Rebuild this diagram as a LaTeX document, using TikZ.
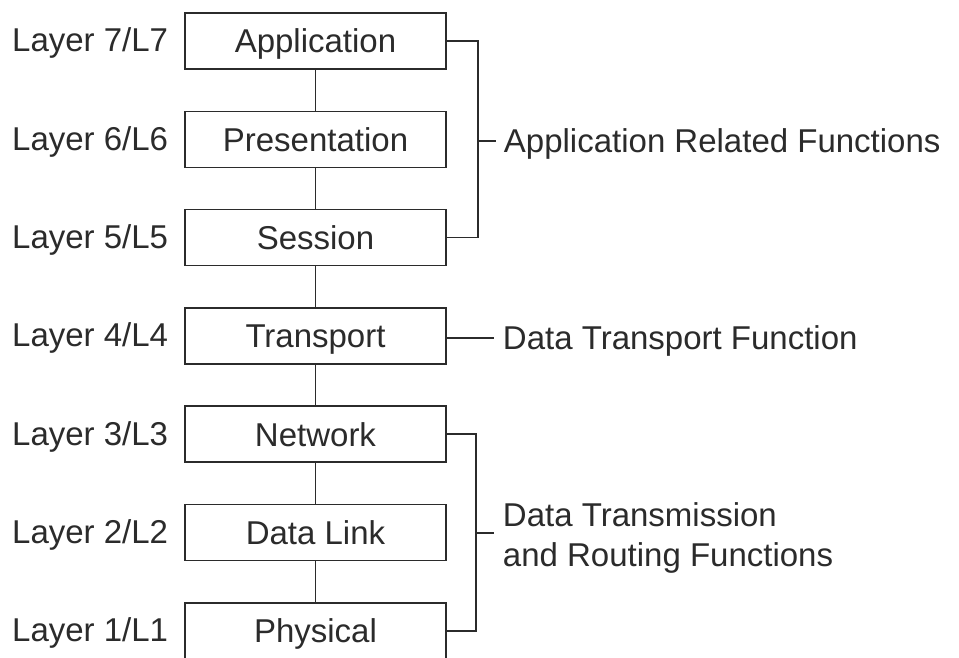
\documentclass[tikz,border=0pt]{standalone}
\usepackage{fontspec}
\setmainfont{Liberation Sans}
\usetikzlibrary{calc}
\definecolor{ink}{HTML}{2B2B2B}
\begin{document}
\begin{tikzpicture}[x=1pt,y=-1pt,
  every node/.style={font=\fontsize{33}{40}\selectfont, text=ink, inner sep=0pt,
    text height=23.6pt, text depth=0pt},
  layerbox/.style={draw=ink, line width=1.5pt, minimum width=261pt, minimum height=56pt},
  tag/.style={anchor=west},
  conn/.style={draw=ink, line width=1.5pt}]
\useasboundingbox[fill=white] (0,0) rectangle (959,657);

% the seven layers
\node[layerbox] (app) at (315.5,41)    {Application};
\node[layerbox] (pre) at (315.5,139.3) {Presentation};
\node[layerbox] (ses) at (315.5,237.6) {Session};
\node[layerbox] (tra) at (315.5,335.9) {Transport};
\node[layerbox] (net) at (315.5,434.2) {Network};
\node[layerbox] (dl)  at (315.5,532.5) {Data Link};
\node[layerbox] (phy) at (315.5,630.8) {Physical};

% layer numbers on the left
\node[tag] (l7) at (12,40)    {Layer 7/L7};
\node[tag] (l6) at (12,138.3) {Layer 6/L6};
\node[tag] (l5) at (12,236.6) {Layer 5/L5};
\node[tag] (l4) at (12,334.9) {Layer 4/L4};
\node[tag] (l3) at (12,433.2) {Layer 3/L3};
\node[tag] (l2) at (12,531.5) {Layer 2/L2};
\node[tag] (l1) at (12,629.8) {Layer 1/L1};

% stack links
\draw[conn] (app) -- (pre);
\draw[conn] (pre) -- (ses);
\draw[conn] (ses) -- (tra);
\draw[conn] (tra) -- (net);
\draw[conn] (net) -- (dl);
\draw[conn] (dl)  -- (phy);

% upper bracket: layers 7-5
\draw[conn] (app.east) -- ++(31,0) |- (ses.east);
\coordinate (t1) at ($(pre.east)+(49,1.5)$);
\draw[conn] ($(pre.east)+(31,1.5)$) -- (t1);
\node[tag] (fapp) at ($(t1)+(8,0)$) {Application Related Functions};

% layer 4
\coordinate (t2) at ($(tra.east)+(47,2)$);
\draw[conn] ($(tra.east)+(0,2)$) -- (t2);
\node[tag] (ftra) at ($(t2)+(9,0)$) {Data Transport Function};

% lower bracket: layers 3-1
\draw[conn] (net.east) -- ++(29,0) |- (phy.east);
\coordinate (t3) at ($(dl.east)+(47,0.5)$);
\draw[conn] ($(dl.east)+(29,0.5)$) -- (t3);
\node[tag, align=left] (fdat) at ($(t3)+(9,21.5)$) {Data Transmission\\and Routing Functions};
\end{tikzpicture}
\end{document}
